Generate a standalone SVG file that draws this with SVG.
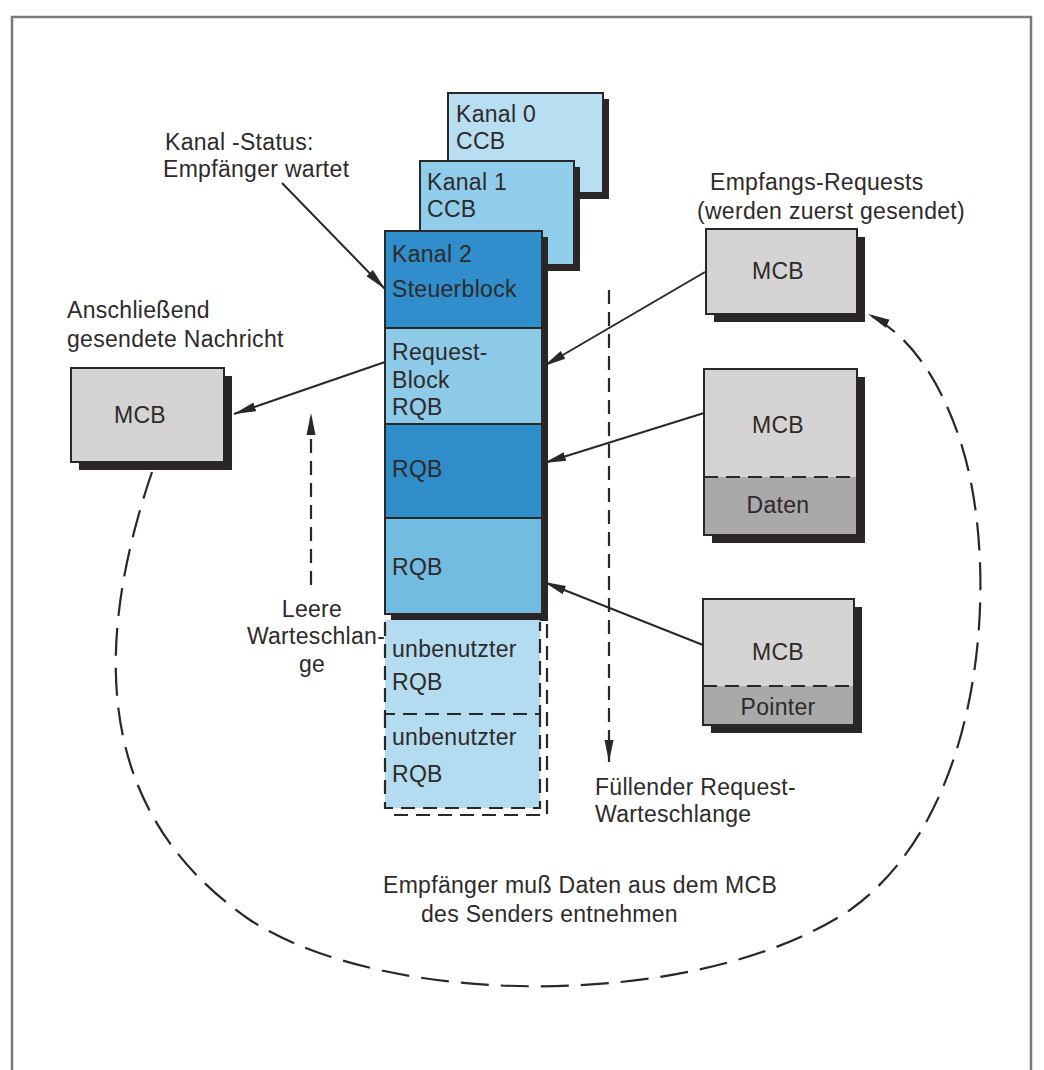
<svg xmlns="http://www.w3.org/2000/svg" width="1044" height="1070" viewBox="0 0 1044 1070">
<defs>
<style>
text{font-family:"Liberation Sans","DejaVu Sans",sans-serif;font-size:23px;fill:#2e2a2a;letter-spacing:0.3px}
.c{text-anchor:middle}
.box{stroke:#2b2727;stroke-width:2}
.sh{fill:#2b2626}
.con{fill:none;stroke:#2b2727;stroke-width:2}
.dash{fill:none;stroke:#2b2727;stroke-width:2.2;stroke-dasharray:14 8}
.loop{fill:none;stroke:#2b2727;stroke-width:2.2;stroke-dasharray:28 12}
.gray{fill:#d5d3d3}
.dgray{fill:#aaa8a8}
</style>
<marker id="ah" markerUnits="userSpaceOnUse" markerWidth="24" markerHeight="12" refX="22" refY="6" orient="auto">
<path d="M0,1.5 L22,6 L0,10.5 Z" fill="#2b2727"/>
</marker>
</defs>
<rect width="1044" height="1070" fill="#ffffff"/>
<path d="M12,1070 V17 H1031 V1070" fill="none" stroke="#7a7878" stroke-width="2.5"/>

<g id="kanal0">
<rect class="sh" x="454" y="99" width="155" height="100"/>
<rect class="box" x="448" y="93" width="155" height="100" fill="#b8def1"/>
<text x="456" y="122">Kanal 0</text>
<text x="456" y="149">CCB</text>
</g>
<g id="kanal1">
<rect class="sh" x="426" y="167" width="154" height="104"/>
<rect class="box" x="420" y="161" width="154" height="104" fill="#8fcdea"/>
<text x="427" y="190">Kanal 1</text>
<text x="427" y="217">CCB</text>
</g>
<rect class="sh" x="391" y="237" width="157" height="384"/>
<g id="kanal2">
<rect class="box" x="385" y="231" width="157" height="97" fill="#2f8ecb"/>
<text x="392" y="262">Kanal 2</text>
<text x="392" y="297">Steuerblock</text>
</g>
<g id="rqb1">
<rect class="box" x="385" y="328" width="157" height="96" fill="#8dcbe9"/>
<text x="392" y="360">Request-</text>
<text x="392" y="388">Block</text>
<text x="392" y="415">RQB</text>
</g>
<g id="rqb2">
<rect class="box" x="385" y="424" width="157" height="94" fill="#2f8dc9"/>
<text x="392" y="477">RQB</text>
</g>
<g id="rqb3">
<rect class="box" x="385" y="518" width="157" height="96" fill="#72bbe1"/>
<text x="392" y="575">RQB</text>
</g>
<g id="unused1">
<path class="dash" d="M547,624 V815 H391"/>
<rect x="385" y="620" width="155" height="188" fill="#b4dcf0"/>
<path class="dash" d="M385,622 V714 H540 V622"/>
<text x="392" y="657">unbenutzter</text>
<text x="392" y="690">RQB</text>
</g>
<g id="unused2">
<path class="dash" d="M385,714 V808 H540 V714"/>
<text x="392" y="745">unbenutzter</text>
<text x="392" y="782">RQB</text>
</g>

<g id="mcb-left">
<rect class="sh" x="79" y="376" width="153" height="94"/>
<rect class="box gray" x="71" y="368" width="153" height="94"/>
<text class="c" x="140" y="423">MCB</text>
</g>
<g id="mcb-top">
<rect class="sh" x="714" y="237" width="151" height="85"/>
<rect class="box gray" x="706" y="229" width="151" height="85"/>
<text class="c" x="778" y="279">MCB</text>
</g>
<g id="mcb-daten">
<rect class="sh" x="712" y="377" width="153" height="166"/>
<rect class="box gray" x="704" y="369" width="153" height="166"/>
<rect x="705" y="477" width="151" height="57" class="dgray"/>
<line x1="704" y1="477" x2="857" y2="477" class="dash" stroke-dasharray="12 6"/>
<rect x="704" y="369" width="153" height="166" fill="none" class="box"/>
<text class="c" x="778" y="433">MCB</text>
<text class="c" x="778" y="513">Daten</text>
</g>
<g id="mcb-pointer">
<rect class="sh" x="711" y="607" width="151" height="126"/>
<rect class="box gray" x="703" y="599" width="151" height="126"/>
<rect x="704" y="686" width="149" height="38" class="dgray"/>
<line x1="703" y1="686" x2="854" y2="686" class="dash" stroke-dasharray="12 6"/>
<rect x="703" y="599" width="151" height="126" fill="none" class="box"/>
<text class="c" x="778" y="660">MCB</text>
<text class="c" x="778" y="715">Pointer</text>
</g>

<g id="labels">
<text x="165" y="150">Kanal -Status:</text>
<text x="163" y="177">Empfänger wartet</text>
<text x="710" y="190">Empfangs-Requests</text>
<text x="697" y="219">(werden zuerst gesendet)</text>
<text x="67" y="318">Anschließend</text>
<text x="67" y="347">gesendete Nachricht</text>
<text class="c" x="312" y="617">Leere</text>
<text class="c" x="316" y="644">Warteschlan-</text>
<text class="c" x="312" y="672">ge</text>
<text x="595" y="795">Füllender Request-</text>
<text x="595" y="822">Warteschlange</text>
<text x="383" y="893">Empfänger muß Daten aus dem MCB</text>
<text x="421" y="922">des Senders entnehmen</text>
</g>

<g id="connectors">
<line class="con" x1="282" y1="183" x2="385" y2="289" marker-end="url(#ah)"/>
<line class="con" x1="705" y1="272" x2="544" y2="366" marker-end="url(#ah)"/>
<line class="con" x1="704" y1="413" x2="544" y2="463" marker-end="url(#ah)"/>
<line class="con" x1="703" y1="645" x2="544" y2="582" marker-end="url(#ah)"/>
<line class="con" x1="385" y1="362" x2="234" y2="414" marker-end="url(#ah)"/>
<line class="dash" x1="311" y1="585" x2="311" y2="413" marker-end="url(#ah)"/>
<line class="dash" x1="609" y1="290" x2="609" y2="762" marker-end="url(#ah)"/>
<path class="loop" d="M152,472 C95,640 90,810 250,920 C390,1010 700,1010 850,910 C990,810 1000,560 960,440 C940,380 910,335 868,314" marker-end="url(#ah)"/>
</g>
</svg>
